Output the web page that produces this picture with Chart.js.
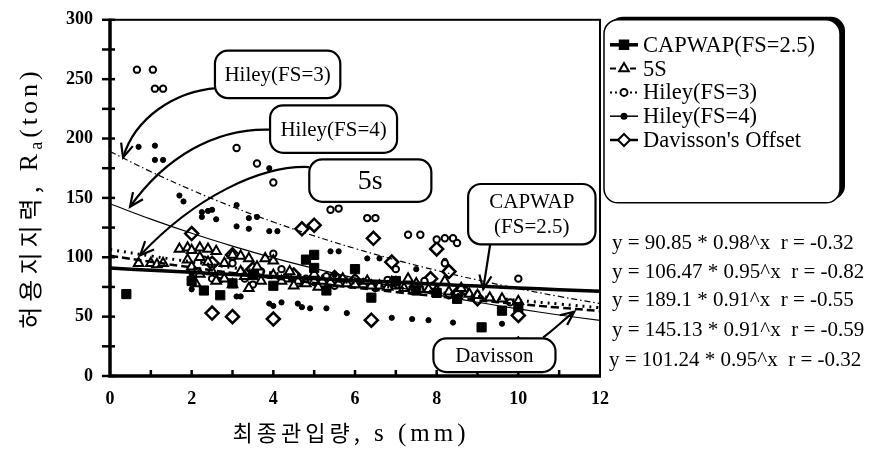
<!DOCTYPE html>
<html>
<head>
<meta charset="utf-8">
<script src="https://cdn.jsdelivr.net/npm/chart.js@4.4.0/dist/chart.umd.min.js"></script>
<style>
  html, body { margin: 0; padding: 0; background: #fff; }
  #wrap { width: 877px; height: 455px; position: relative; }
</style>
</head>
<body>
<div id="wrap"><canvas id="chart"></canvas></div>
<script>
// fitted curves at x = 0..12
const fitX = [0, 1, 2, 3, 4, 5, 6, 7, 8, 9, 10, 11, 12];
const capwapFit = [90.9, 89.0, 87.3, 85.5, 83.8, 82.1, 80.5, 78.9, 77.3, 75.7, 74.2, 72.7, 71.3];
const fiveSFit = [106.5, 101.1, 96.1, 91.3, 86.7, 82.4, 78.3, 74.4, 70.6, 67.1, 63.7, 60.6, 57.5];
const hiley3Fit = [189.1, 172.1, 156.6, 142.5, 129.7, 118.0, 107.4, 97.7, 88.9, 80.9, 73.6, 67.0, 61.0];
const hiley4Fit = [145.1, 132.1, 120.2, 109.4, 99.5, 90.6, 82.4, 75.0, 68.3, 62.1, 56.5, 51.4, 46.8];
const davissonFit = [101.2, 96.2, 91.4, 86.8, 82.5, 78.3, 74.4, 70.7, 67.2, 63.8, 60.6, 57.6, 54.7];

// measured points [s, Ra]
const capwapPts = [[0.4,69],[2.0,80],[2.3,72],[2.7,68],[3.0,78],[3.5,85],[4.0,76],[4.8,98],[5.0,102],[5.0,91],
  [5.3,72],[6.0,90],[6.4,66],[7.0,80],[7.5,72],[8.0,70],[8.5,65],[9.1,41],[9.6,55],[10.0,58]];
const fiveSPts = [[0.7,95],[1.0,95],[1.15,94],[1.3,95],[1.7,107],[1.9,108],[2.0,106],[2.2,108],[2.4,107],[2.6,105],
  [2.0,92],[2.2,86],[2.5,88],[2.8,82],[3.0,102],[3.2,101],[3.4,99],[3.0,77],[3.4,74],[3.8,99],[4.0,97],[4.0,85],
  [4.3,82],[4.6,80],[5.0,80],[5.4,79],[5.8,78],[6.2,77],[6.6,76],[7.0,76],[7.3,82],[7.6,73],[8.0,72],[8.2,80],
  [8.5,70],[9.0,68],[9.6,65],[10.0,63],[4.2,80],[4.8,78],[5.2,80],[5.6,78],[6.0,77],[6.4,76],[6.8,75],[7.2,74],
  [7.8,73],[8.3,71],[8.8,69],[4.4,88],[5.0,86],[3.6,92],[2.2,100],[2.4,96],[2.8,95],[1.9,98],[3.2,88],[2.6,80],[2.1,78],
  [4.5,76],[5.1,75],[5.7,82],[6.3,80],[6.9,79],[7.5,78],[3.7,80],[3.3,84],[8.6,74],[9.3,66]];
const hiley3Pts = [[0.66,258],[1.05,258],[1.1,242],[1.3,242],[3.1,192],[3.6,179],[4.0,163],[5.0,159],[5.4,140],[5.6,141],
  [6.3,133],[6.5,133],[7.3,119],[7.6,119],[8.0,115],[8.2,116],[8.4,116],[8.5,112],[10.0,82],
  [2.0,90],[2.3,98],[2.7,85],[3.0,95],[3.3,82],[3.7,88],[4.2,90],[4.6,78],[5.1,80],[5.5,76],[6.0,82],[6.5,74],
  [7.0,78],[7.4,72],[7.9,76],[8.3,68],[8.7,72],[9.8,62],[10.0,60],[4.0,103],[8.2,95],[7.0,90],
  [4.8,82],[5.3,84],[5.9,77],[6.2,79],[6.8,81],[7.7,80],[3.5,77],[2.5,82]];
const hiley4Pts = [[0.7,193],[1.1,194],[1.1,182],[1.3,182],[1.7,152],[1.8,147],[2.25,138],[2.4,139],[2.5,140],[2.25,134],
  [2.6,132],[3.1,144],[3.4,133],[3.6,134],[3.1,126],[3.4,124],[3.9,175],[3.9,122],[4.1,122],[5.4,105],[5.6,105],
  [6.3,99],[6.6,99],[7.5,90],[8.2,97],[2.0,73],[3.1,67],[3.2,67],[3.9,61],[4.0,59],[4.2,62],[4.6,61],[4.7,58],
  [4.9,57],[5.3,57],[5.8,53],[6.9,49],[7.4,48],[7.8,47],[8.4,45],[9.6,44],[2.0,85],[2.7,80],[4.5,80],[5.5,85],
  [6.5,78],[7.2,74],[9.0,70],[4.3,84],[5.0,78],[6.0,76],[7.0,82],[8.0,76]];
const davissonPts = [[2.0,120],[4.7,124],[5.0,127],[6.45,116],[8.0,107],[6.9,96],[7.85,82],[8.5,69],[10.0,51],[2.5,53],
  [3.0,50],[4.0,48],[6.4,47],[10.0,27],[2.5,95],[3.5,90],[4.5,85],[5.5,83],[6.0,80],[7.5,75],[9.0,65],[3.0,102],[8.3,88]];

const seriesNames = ['CAPWAP(FS=2.5)', '5S', 'Hiley(FS=3)', 'Hiley(FS=4)', "Davisson's Offset"];
const eqLabels = ['y = 90.85 * 0.98^x  r = -0.32', 'y = 106.47 * 0.95^x  r = -0.82', 'y = 189.1 * 0.91^x  r = -0.55',
  'y = 145.13 * 0.91^x  r = -0.59', 'y = 101.24 * 0.95^x  r = -0.32'];

// callouts in data units: box [x1, yTop, x2, yBottom], arrow bezier points
const callouts = [
  { lines: ['Hiley(FS=3)'], size: 21, box: [2.57, 274, 5.64, 234], arrow: [[2.62,242.5],[1.59,240],[0.61,217.5],[0.32,184]] },
  { lines: ['Hiley(FS=4)'], size: 21, box: [3.92, 228, 7.03, 188], arrow: [[3.92,207.5],[2.57,209],[1.35,184],[0.49,142.5]] },
  { lines: ['5s'], size: 28, box: [4.88, 182.5, 7.87, 146.7], arrow: [[4.88,176],[3.68,177.5],[2.08,150.8],[0.74,101.7]] },
  { lines: ['CAPWAP', '(FS=2.5)'], size: 21, box: [8.77, 161.7, 11.89, 110.8], arrow: [[9.31,110.8],[9.25,98],[9.2,86],[9.14,73.3]] },
  { lines: ['Davisson'], size: 21, box: [7.92, 31.7, 10.91, 3.3], arrow: [[10.61,32.5],[10.9,40],[11.1,47],[11.37,54.2]] }
];

const toXY = pts => pts.map(p => ({ x: p[0], y: p[1] }));
const fitXY = arr => fitX.map((x, i) => ({ x: x, y: arr[i] }));

const serif = "'Liberation Serif', 'Times New Roman', serif";
const kfont = "'Noto Sans CJK KR', sans-serif";

function roundBox(ctx, x1, y1, x2, y2, r) {
  ctx.beginPath();
  ctx.roundRect(x1, y1, x2 - x1, y2 - y1, r);
  ctx.fillStyle = '#fff';
  ctx.fill();
  ctx.stroke();
}

function arrowHead(ctx, tx, ty, fx, fy) {
  const ang = Math.atan2(ty - fy, tx - fx);
  const len = 15, spread = 0.42;
  ctx.beginPath();
  ctx.moveTo(tx - len * Math.cos(ang - spread), ty - len * Math.sin(ang - spread));
  ctx.lineTo(tx, ty);
  ctx.lineTo(tx - len * Math.cos(ang + spread), ty - len * Math.sin(ang + spread));
  ctx.stroke();
}

const decor = {
  id: 'decor',
  afterDraw(chart) {
    const ctx = chart.ctx;
    const xs = chart.scales.x, ys = chart.scales.y;
    const a = chart.chartArea;
    const px = v => xs.getPixelForValue(v), py = v => ys.getPixelForValue(v);
    ctx.save();
    ctx.strokeStyle = '#000';
    ctx.fillStyle = '#000';
    ctx.lineCap = 'butt';

    // frame
    ctx.lineWidth = 2;
    ctx.strokeRect(a.left, a.top, a.right - a.left, a.bottom - a.top);
    ctx.lineWidth = 3.5;
    ctx.beginPath();
    ctx.moveTo(a.left, a.top - 1);
    ctx.lineTo(a.left, a.bottom);
    ctx.lineTo(a.right + 1, a.bottom);
    ctx.stroke();

    // ticks
    ctx.lineWidth = 2.5;
    for (let v = 0; v <= 300; v += 25) {
      ctx.beginPath();
      ctx.moveTo(a.left - 8, py(v));
      ctx.lineTo(a.left + 5, py(v));
      ctx.stroke();
    }
    for (let v = 1; v < 12; v++) {
      ctx.beginPath();
      ctx.moveTo(px(v), a.bottom);
      ctx.lineTo(px(v), a.bottom - 6);
      ctx.stroke();
    }

    // callouts
    callouts.forEach(c => {
      ctx.lineWidth = 2.2;
      const ar = c.arrow.map(p => [px(p[0]), py(p[1])]);
      ctx.beginPath();
      ctx.moveTo(ar[0][0], ar[0][1]);
      ctx.bezierCurveTo(ar[1][0], ar[1][1], ar[2][0], ar[2][1], ar[3][0], ar[3][1]);
      ctx.stroke();
      arrowHead(ctx, ar[3][0], ar[3][1], ar[2][0], ar[2][1]);
      const x1 = px(c.box[0]), y1 = py(c.box[1]), x2 = px(c.box[2]), y2 = py(c.box[3]);
      roundBox(ctx, x1, y1, x2, y2, 13);
      ctx.fillStyle = '#000';
      ctx.font = c.size + 'px ' + serif;
      ctx.textAlign = 'center';
      ctx.textBaseline = 'middle';
      const lh = c.size * 1.2;
      const cy = (y1 + y2) / 2 - (c.lines.length - 1) * lh / 2;
      c.lines.forEach((t, i) => ctx.fillText(t, (x1 + x2) / 2, cy + i * lh + 1));
    });

    // legend box with shadow
    const lx = a.right + 4, ly = a.top, lw = 236, lh2 = 183;
    ctx.fillStyle = '#000';
    ctx.beginPath();
    ctx.roundRect(lx + 5, ly - 3, lw, lh2, 14);
    ctx.fill();
    ctx.lineWidth = 1.5;
    roundBox(ctx, lx, ly, lx + lw, ly + lh2, 14);
    const styles = [
      { dash: [], w: 3.5, pt: 'rect', r: 6, fill: '#000' },
      { dash: [6, 4], w: 2, pt: 'triangle', r: 5.5, fill: '#fff' },
      { dash: [2, 3], w: 2, pt: 'circle', r: 3.5, fill: '#fff' },
      { dash: [], w: 1.5, pt: 'circle', r: 2.5, fill: '#000' },
      { dash: [], w: 2.5, pt: 'rectRot', r: 6, fill: '#fff' }
    ];
    ctx.font = '22.5px ' + serif;
    ctx.textAlign = 'left';
    ctx.textBaseline = 'middle';
    seriesNames.forEach((name, i) => {
      const yy = ly + 25 + i * 23.8;
      const s = styles[i];
      ctx.setLineDash(s.dash);
      ctx.lineWidth = s.w;
      ctx.beginPath();
      ctx.moveTo(lx + 6, yy);
      ctx.lineTo(lx + 34, yy);
      ctx.stroke();
      ctx.setLineDash([]);
      ctx.lineWidth = 2;
      ctx.fillStyle = s.fill;
      Chart.helpers.drawPoint(ctx, { pointStyle: s.pt, radius: s.r, rotation: 0, borderWidth: 2 }, lx + 20, yy);
      ctx.fillStyle = '#000';
      ctx.fillText(name, lx + 39, yy + 1);
    });

    // equations
    ctx.font = '21px ' + serif;
    const eqY = [243, 272, 300, 330, 360];
    eqLabels.forEach((t, i) => ctx.fillText(t, a.right + (i === 4 ? 9 : 12), eqY[i]));

    // x title
    ctx.textBaseline = 'middle';
    ctx.letterSpacing = '4px';
    ctx.font = '22px ' + kfont;
    const kx = '최종관입량,';
    const sx = ' s (mm)';
    const w1 = ctx.measureText(kx).width;
    ctx.font = '25px ' + serif;
    const w2 = ctx.measureText(sx).width;
    let startX = (a.left + a.right) / 2 - 4 - (w1 + w2) / 2;
    ctx.font = '22px ' + kfont;
    ctx.fillText(kx, startX, 433);
    ctx.font = '25px ' + serif;
    ctx.fillText(sx, startX + w1, 434);

    // y title (rotated)
    ctx.translate(30, 198);
    ctx.rotate(-Math.PI / 2);
    ctx.letterSpacing = '5px';
    ctx.font = '24px ' + kfont;
    const ky = '허용지지력,';
    const wk = ctx.measureText(ky).width;
    ctx.letterSpacing = '4px';
    ctx.font = '26px ' + serif;
    const wR = ctx.measureText(' R').width;
    ctx.font = '18px ' + serif;
    const wa = ctx.measureText('a').width;
    ctx.font = '26px ' + serif;
    const wt = ctx.measureText('(ton)').width;
    let cx = -(wk + wR + wa + wt) / 2;
    ctx.letterSpacing = '5px';
    ctx.font = '24px ' + kfont;
    ctx.fillText(ky, cx, 0);
    cx += wk;
    ctx.letterSpacing = '4px';
    ctx.font = '26px ' + serif;
    ctx.fillText(' R', cx, 0);
    cx += wR;
    ctx.font = '18px ' + serif;
    ctx.fillText('a', cx, 7);
    cx += wa;
    ctx.font = '26px ' + serif;
    ctx.fillText('(ton)', cx, 0);

    ctx.restore();
  }
};

new Chart(document.getElementById('chart'), {
  type: 'scatter',
  data: {
    datasets: [
      { label: 'CAPWAP fit', data: fitXY(capwapFit), showLine: true, borderColor: '#000', borderWidth: 3.5, pointRadius: 0, tension: 0.4 },
      { label: '5S fit', data: fitXY(fiveSFit), showLine: true, borderColor: '#000', borderWidth: 3, borderDash: [2, 5], pointRadius: 0, tension: 0.4 },
      { label: 'Hiley3 fit', data: fitXY(hiley3Fit), showLine: true, borderColor: '#000', borderWidth: 1.2, borderDash: [6, 3, 1.5, 3], pointRadius: 0, tension: 0.4 },
      { label: 'Hiley4 fit', data: fitXY(hiley4Fit), showLine: true, borderColor: '#000', borderWidth: 1.2, pointRadius: 0, tension: 0.4 },
      { label: 'Davisson fit', data: fitXY(davissonFit), showLine: true, borderColor: '#000', borderWidth: 2.5, borderDash: [8, 4], pointRadius: 0, tension: 0.4 },
      { label: seriesNames[0], data: toXY(capwapPts), pointStyle: 'rect', pointRadius: 6.5, backgroundColor: '#000', borderColor: '#000', borderWidth: 1 },
      { label: seriesNames[1], data: toXY(fiveSPts), pointStyle: 'triangle', pointRadius: 5.5, backgroundColor: '#fff', borderColor: '#000', borderWidth: 2 },
      { label: seriesNames[2], data: toXY(hiley3Pts), pointStyle: 'circle', pointRadius: 3.2, backgroundColor: '#fff', borderColor: '#000', borderWidth: 2 },
      { label: seriesNames[3], data: toXY(hiley4Pts), pointStyle: 'circle', pointRadius: 2.6, backgroundColor: '#000', borderColor: '#000', borderWidth: 1 },
      { label: seriesNames[4], data: toXY(davissonPts), pointStyle: 'rectRot', pointRadius: 6.5, backgroundColor: '#fff', borderColor: '#000', borderWidth: 2.5 }
    ]
  },
  options: {
    responsive: true,
    maintainAspectRatio: false,
    animation: false,
    layout: { padding: { top: 15, right: 277, left: 0, bottom: 0 } },
    plugins: { legend: { display: false }, tooltip: { enabled: false } },
    scales: {
      x: {
        type: 'linear',
        min: 0,
        max: 12,
        grid: { display: false },
        border: { display: false },
        ticks: { stepSize: 2, color: '#000', padding: 5, font: { family: serif, size: 18, weight: 'bold' } },
        afterFit: s => { s.height = 79; }
      },
      y: {
        min: 0,
        max: 300,
        grid: { display: false },
        border: { display: false },
        ticks: { stepSize: 50, color: '#000', padding: 9, font: { family: serif, size: 18, weight: 'bold' } },
        afterFit: s => { s.width = 110; }
      }
    }
  },
  plugins: [decor]
});
</script>
</body>
</html>
